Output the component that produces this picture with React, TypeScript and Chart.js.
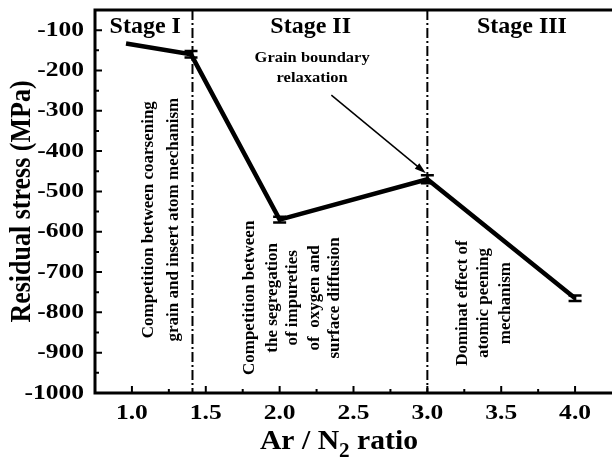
import React, { useEffect, useRef } from "react";
import { Chart, registerables } from "chart.js";

Chart.register(...registerables);

// ---- data ----
const arN2Ratio = [0.96, 1.4, 2.0, 3.0, 4.0];
const residualStress = [-133, -160, -570, -470, -765];
const stressError = [0, 8, 7, 10, 7];

const xTickValues = [1.0, 1.5, 2.0, 2.5, 3.0, 3.5, 4.0];
const xMinorTickValues = [1.25, 1.75, 2.25, 2.75, 3.25, 3.75];
const yTickValues = [-1000, -900, -800, -700, -600, -500, -400, -300, -200, -100];
const yMinorTickValues = [-950, -850, -750, -650, -550, -450, -350, -250, -150];

const stageBoundaries = [1.41, 3.0];
const stageLabels = ["Stage I", "Stage II", "Stage III"];
const stageLabelX = [1.09, 2.21, 3.64];
const stageLabelY = -107;

const stage1Lines = ["Competition between coarsening", "grain and insert atom mechanism"];
const stage1LineX = [1.11, 1.28];
const stage1CenterY = -570;

const stage2Lines = ["Competition between", "the segregation", "of impureties", "of  oxygen and", "surface diffusion"];
const stage2LineX = [1.8, 1.955, 2.09, 2.24, 2.375];
const stage2CenterY = -764;

const stage3Lines = ["Dominat effect of", "atomic peening", "mechanism"];
const stage3LineX = [3.24, 3.38, 3.53];
const stage3CenterY = -777;

const grainLines = ["Grain boundary", "relaxation"];
const grainTextX = 2.22;
const grainTextY = [-179, -229];
const arrowFrom = [2.35, -261];
const arrowTo = [2.99, -455];

const FONT = "'Liberation Serif', 'Times New Roman', Times, serif";

function drawText(
  ctx: CanvasRenderingContext2D,
  str: string,
  x: number,
  y: number,
  size: number,
  opts: { align?: CanvasTextAlign; baseline?: CanvasTextBaseline; rot?: boolean; sx?: number } = {}
) {
  ctx.save();
  ctx.translate(x, y);
  ctx.scale(opts.sx ?? 1, 1);
  if (opts.rot) ctx.rotate(-Math.PI / 2);
  ctx.font = `bold ${size}px ${FONT}`;
  ctx.fillStyle = "#000";
  ctx.textAlign = opts.align ?? "center";
  ctx.textBaseline = opts.baseline ?? "alphabetic";
  ctx.fillText(str, 0, 0);
  ctx.restore();
}

const decorPlugin = {
  id: "decor",
  beforeDatasetsDraw(chart: any) {
    const ctx: CanvasRenderingContext2D = chart.ctx;
    const { top, bottom } = chart.chartArea;
    const xs = chart.scales.x;
    ctx.save();
    ctx.strokeStyle = "#000";
    ctx.lineWidth = 2;
    ctx.setLineDash([10, 3, 2, 3]);
    stageBoundaries.forEach((b) => {
      const px = xs.getPixelForValue(b);
      ctx.beginPath();
      ctx.moveTo(px, top);
      ctx.lineTo(px, bottom);
      ctx.stroke();
    });
    ctx.restore();
  },
  afterDatasetsDraw(chart: any) {
    const ctx: CanvasRenderingContext2D = chart.ctx;
    const { left, right, top, bottom } = chart.chartArea;
    const xs = chart.scales.x;
    const ys = chart.scales.y;
    ctx.save();
    ctx.strokeStyle = "#000";
    ctx.fillStyle = "#000";

    // error bars
    ctx.lineWidth = 2.5;
    arN2Ratio.forEach((xv, i) => {
      const e = stressError[i];
      if (!e) return;
      const px = xs.getPixelForValue(xv);
      const y1 = ys.getPixelForValue(residualStress[i] + e);
      const y2 = ys.getPixelForValue(residualStress[i] - e);
      ctx.beginPath();
      ctx.moveTo(px, y1);
      ctx.lineTo(px, y2);
      ctx.moveTo(px - 6.5, y1);
      ctx.lineTo(px + 6.5, y1);
      ctx.moveTo(px - 6.5, y2);
      ctx.lineTo(px + 6.5, y2);
      ctx.stroke();
    });

    // frame
    ctx.lineWidth = 3;
    ctx.beginPath();
    ctx.moveTo(right + 2, top);
    ctx.lineTo(left, top);
    ctx.lineTo(left, bottom);
    ctx.lineTo(right + 2, bottom);
    ctx.stroke();

    // ticks (inward)
    ctx.lineWidth = 2;
    ctx.beginPath();
    xTickValues.forEach((v) => {
      const px = xs.getPixelForValue(v);
      ctx.moveTo(px, bottom);
      ctx.lineTo(px, bottom - 7);
    });
    xMinorTickValues.forEach((v) => {
      const px = xs.getPixelForValue(v);
      ctx.moveTo(px, bottom);
      ctx.lineTo(px, bottom - 4);
    });
    yTickValues.forEach((v) => {
      const py = ys.getPixelForValue(v);
      ctx.moveTo(left, py);
      ctx.lineTo(left + 7, py);
    });
    yMinorTickValues.forEach((v) => {
      const py = ys.getPixelForValue(v);
      ctx.moveTo(left, py);
      ctx.lineTo(left + 4, py);
    });
    ctx.stroke();

    // tick labels
    xTickValues.forEach((v) => {
      drawText(ctx, v.toFixed(1), xs.getPixelForValue(v), bottom + 26, 22, { sx: 1.16 });
    });
    yTickValues.forEach((v) => {
      drawText(ctx, String(v), left - 11, ys.getPixelForValue(v), 22, {
        sx: 1.16,
        align: "right",
        baseline: "middle",
      });
    });

    // axis titles
    drawText(ctx, "Residual stress (MPa)", 23, (top + bottom) / 2, 26, { rot: true, baseline: "middle", sx: 1.1 });
    {
      const cx = 339;
      const by = 449;
      const sx = 1.06;
      ctx.font = `bold 28px ${FONT}`;
      const w1 = ctx.measureText("Ar / N").width;
      const w3 = ctx.measureText(" ratio").width;
      ctx.font = `bold 20px ${FONT}`;
      const w2 = ctx.measureText("2").width;
      const total = (w1 + w2 + w3) * sx;
      let x0 = cx - total / 2;
      drawText(ctx, "Ar / N", x0, by, 28, { align: "left", sx });
      x0 += w1 * sx;
      drawText(ctx, "2", x0, by + 8, 20, { align: "left", sx });
      x0 += w2 * sx;
      drawText(ctx, " ratio", x0, by, 28, { align: "left", sx });
    }

    // stage labels
    stageLabels.forEach((s, i) => {
      drawText(ctx, s, xs.getPixelForValue(stageLabelX[i]), ys.getPixelForValue(stageLabelY), 24);
    });

    // rotated annotations
    const rotBlock = (lines: string[], xsv: number[], cy: number) => {
      lines.forEach((l, i) => {
        drawText(ctx, l, xs.getPixelForValue(xsv[i]), ys.getPixelForValue(cy), 17, {
          rot: true,
          baseline: "middle",
        });
      });
    };
    rotBlock(stage1Lines, stage1LineX, stage1CenterY);
    rotBlock(stage2Lines, stage2LineX, stage2CenterY);
    rotBlock(stage3Lines, stage3LineX, stage3CenterY);

    // grain boundary annotation
    grainLines.forEach((l, i) => {
      drawText(ctx, l, xs.getPixelForValue(grainTextX), ys.getPixelForValue(grainTextY[i]), 15, { sx: 1.1 });
    });
    const ax1 = xs.getPixelForValue(arrowFrom[0]);
    const ay1 = ys.getPixelForValue(arrowFrom[1]);
    const ax2 = xs.getPixelForValue(arrowTo[0]);
    const ay2 = ys.getPixelForValue(arrowTo[1]);
    const ang = Math.atan2(ay2 - ay1, ax2 - ax1);
    const hl = 12;
    ctx.lineWidth = 1.5;
    ctx.beginPath();
    ctx.moveTo(ax1, ay1);
    ctx.lineTo(ax2 - Math.cos(ang) * hl * 0.8, ay2 - Math.sin(ang) * hl * 0.8);
    ctx.stroke();
    ctx.beginPath();
    ctx.moveTo(ax2, ay2);
    ctx.lineTo(ax2 - hl * Math.cos(ang - 0.3), ay2 - hl * Math.sin(ang - 0.3));
    ctx.lineTo(ax2 - hl * Math.cos(ang + 0.3), ay2 - hl * Math.sin(ang + 0.3));
    ctx.closePath();
    ctx.fill();

    ctx.restore();
  },
};

export default function App() {
  const ref = useRef<HTMLCanvasElement | null>(null);
  useEffect(() => {
    if (!ref.current) return;
    const chart = new Chart(ref.current, {
      type: "scatter",
      data: {
        datasets: [
          {
            data: arN2Ratio.map((x, i) => ({ x, y: residualStress[i] })),
            showLine: true,
            borderColor: "#000",
            backgroundColor: "#000",
            borderWidth: 4.5,
            pointRadius: 0,
            tension: 0,
          },
        ],
      },
      options: {
        animation: false,
        responsive: false,
        events: [],
        layout: { padding: { top: 10, right: 0, left: 0, bottom: 0 } },
        plugins: { legend: { display: false }, tooltip: { enabled: false } },
        scales: {
          x: {
            type: "linear",
            min: 0.75,
            max: 4.25,
            grid: { display: false, drawTicks: false },
            border: { display: false },
            ticks: { display: false },
            afterFit: (s: any) => {
              s.height = 66;
            },
          },
          y: {
            type: "linear",
            min: -1000,
            max: -50,
            grid: { display: false, drawTicks: false },
            border: { display: false },
            ticks: { display: false },
            afterFit: (s: any) => {
              s.width = 95;
            },
          },
        },
      },
      plugins: [decorPlugin],
    });
    let alive = true;
    const fonts: any = (document as any).fonts;
    if (fonts && fonts.load) {
      Promise.all([
        fonts.load("bold 22px 'Liberation Serif'"),
        fonts.load("bold 15px 'Liberation Serif'"),
      ])
        .then(() => {
          if (alive) chart.draw();
        })
        .catch(() => {});
    }
    return () => {
      alive = false;
      chart.destroy();
    };
  }, []);
  return (
    <div style={{ position: "absolute", left: 0, top: 0, width: 612, height: 459, background: "#fff" }}>
      <span style={{ position: "absolute", left: -9999, fontFamily: "'Liberation Serif'", fontWeight: "bold" }}>
        Liberation
      </span>
      <canvas ref={ref} width={612} height={459} />
    </div>
  );
}
